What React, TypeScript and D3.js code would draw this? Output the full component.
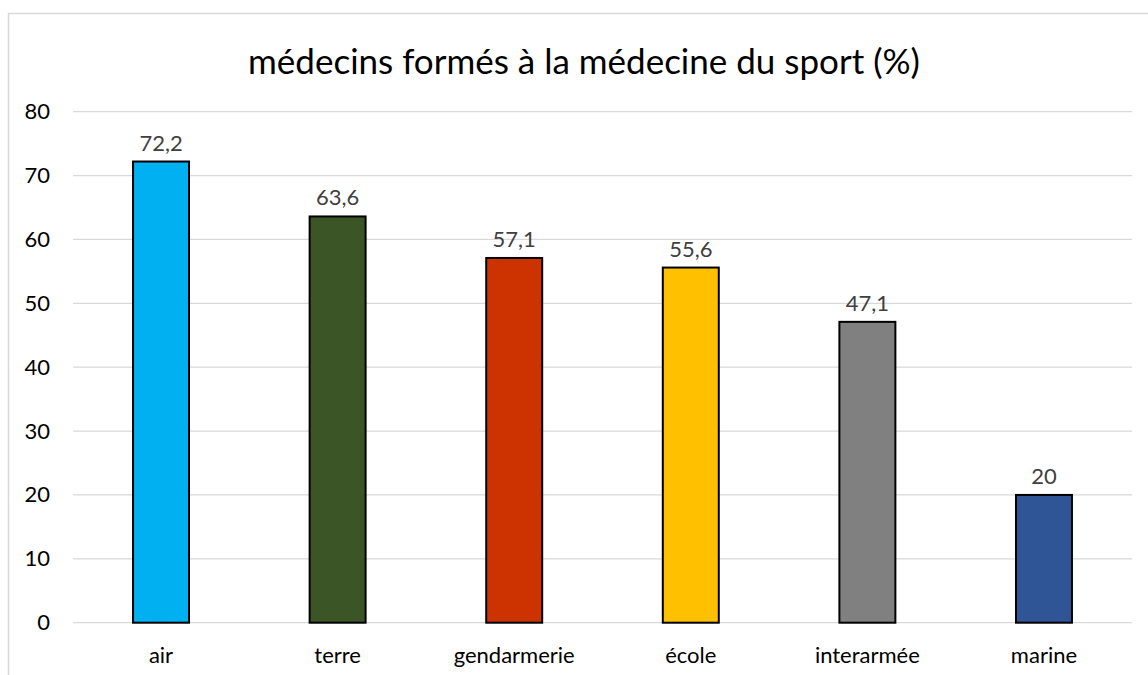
import React from "react";
import * as d3 from "d3";

const categories = ["air", "terre", "gendarmerie", "école", "interarmée", "marine"];
const values = [72.2, 63.6, 57.1, 55.6, 47.1, 20];
const colors = ["#00B0F0", "#3B5526", "#CC3300", "#FFC000", "#808080", "#2F5597"];
const yTicks = [0, 10, 20, 30, 40, 50, 60, 70, 80];
const title = "médecins formés à la médecine du sport (%)";

export default function App() {
  const W = 1148, H = 675;
  const left = 73, right = 1132, top = 111.7, bottom = 622.7;
  const x = d3.scaleBand<string>().domain(categories).range([left, right]).paddingInner(0.683).paddingOuter(0.34);
  const y = d3.scaleLinear().domain([0, 80]).range([bottom, top]);
  const font = "Lato, 'Open Sans', sans-serif";
  return (
    <svg width={W} height={H} style={{ position: "absolute", left: 0, top: 0 }} fontFamily={font}>
      <rect x={0} y={0} width={W} height={H} fill="#fff" />
      <rect x={8.5} y={13.5} width={1160} height={700} fill="none" stroke="#d9d9d9" strokeWidth={1.5} />
      <text x={584} y={74} textAnchor="middle" fontSize={35} fill="#000">{title}</text>
      {yTicks.map((t) => (
        <g key={t}>
          <line x1={left} x2={right} y1={y(t)} y2={y(t)} stroke="#d9d9d9" strokeWidth={1.3} />
          <text x={50} y={y(t) + 7.5} textAnchor="end" fontSize={22} fill="#000">{t}</text>
        </g>
      ))}
      {categories.map((c, i) => {
        const bx = x(c)!;
        const bw = x.bandwidth();
        return (
          <g key={c}>
            <rect x={bx} y={y(values[i])} width={bw} height={y(0) - y(values[i])} fill={colors[i]} stroke="#000" strokeWidth={2} />
            <text x={bx + bw / 2} y={y(values[i]) - 11} textAnchor="middle" fontSize={22} fill="#404040">
              {String(values[i]).replace(".", ",")}
            </text>
            <text x={bx + bw / 2} y={663} textAnchor="middle" fontSize={22} fill="#000">{c}</text>
          </g>
        );
      })}
    </svg>
  );
}
